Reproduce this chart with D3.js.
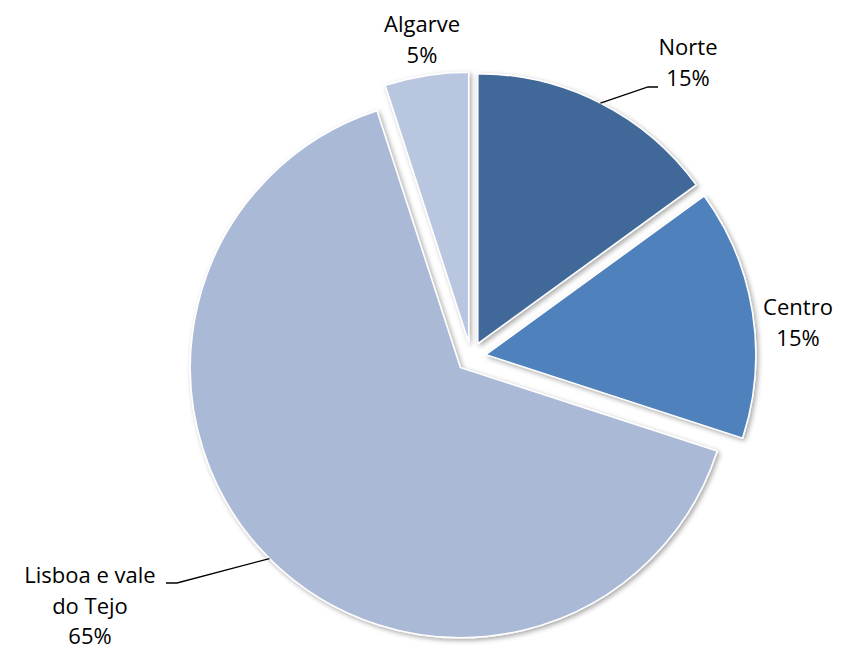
<!DOCTYPE html>
<html>
<head>
<meta charset="utf-8">
<script src="https://cdnjs.cloudflare.com/ajax/libs/d3/7.8.5/d3.min.js"></script>
<style>
  body { margin: 0; background: #fff; }
  text { font-family: "Open Sans", Lato, sans-serif; font-size: 22px; fill: #000; }
</style>
</head>
<body>
<div id="chart"></div>
<script>
// data
var categories = ["Norte", "Centro", "Lisboa e vale do Tejo", "Algarve"];
var values = [15, 15, 65, 5];
var labelLines = [["Norte"], ["Centro"], ["Lisboa e vale", "do Tejo"], ["Algarve"]];
var colours = ["#3F6899", "#4F81BD", "#AAB9D6", "#B9C6DF"];

var width = 841, height = 651;
var cx = 471, cy = 357, radius = 270, explode = 15;

// label anchors (centre x, first baseline) and leader line knees
var labelPos = [
  { x: 688, y: 55, leader: [[648, 87], [658, 87]] },
  { x: 798, y: 315, leader: null },
  { x: 90, y: 583, leader: [[177, 583], [166, 583]] },
  { x: 422, y: 32, leader: null }
];
var lineH = 30.5;

var total = d3.sum(values);
var data = categories.map(function(c, i) {
  return { name: c, value: values[i], idx: i };
});

var svg = d3.select("#chart").append("svg")
  .attr("width", width)
  .attr("height", height);

var defs = svg.append("defs");
var f = defs.append("filter").attr("id", "shadow")
  .attr("x", "-10%").attr("y", "-10%").attr("width", "120%").attr("height", "120%");
f.append("feDropShadow")
  .attr("dx", 2).attr("dy", 2).attr("stdDeviation", 2.5)
  .attr("flood-color", "#000").attr("flood-opacity", 0.35);

var pie = d3.pie().sort(null).value(function(d) { return d.value; });
var arc = d3.arc().innerRadius(0).outerRadius(radius);
var arcs = pie(data);

function mid(d) { return (d.startAngle + d.endAngle) / 2; }
function apex(d) {
  var a = mid(d);
  return [cx + explode * Math.sin(a), cy - explode * Math.cos(a)];
}

var g = svg.append("g");

g.selectAll("path.slice")
  .data(arcs)
  .enter().append("path")
  .attr("class", "slice")
  .attr("transform", function(d) { var p = apex(d); return "translate(" + p[0] + "," + p[1] + ")"; })
  .attr("d", arc)
  .attr("fill", function(d) { return colours[d.data.idx]; })
  .attr("stroke", "#fff")
  .attr("stroke-width", 1.5)
  .attr("stroke-linejoin", "round")
  .attr("filter", "url(#shadow)");

// leader lines
arcs.forEach(function(d) {
  var lp = labelPos[d.data.idx];
  if (!lp.leader) return;
  var p = apex(d), a = mid(d);
  var start = [p[0] + radius * Math.sin(a), p[1] - radius * Math.cos(a)];
  var pts = [start].concat(lp.leader);
  svg.append("path")
    .attr("d", d3.line()(pts))
    .attr("fill", "none")
    .attr("stroke", "#000")
    .attr("stroke-width", 1.3);
});

// labels
arcs.forEach(function(d) {
  var lp = labelPos[d.data.idx];
  var lines = labelLines[d.data.idx].concat([Math.round(d.data.value / total * 100) + "%"]);
  var t = svg.append("text")
    .attr("text-anchor", "middle")
    .attr("x", lp.x)
    .attr("y", lp.y);
  lines.forEach(function(l, i) {
    t.append("tspan")
      .attr("x", lp.x)
      .attr("dy", i === 0 ? 0 : lineH)
      .text(l);
  });
});
</script>
</body>
</html>
